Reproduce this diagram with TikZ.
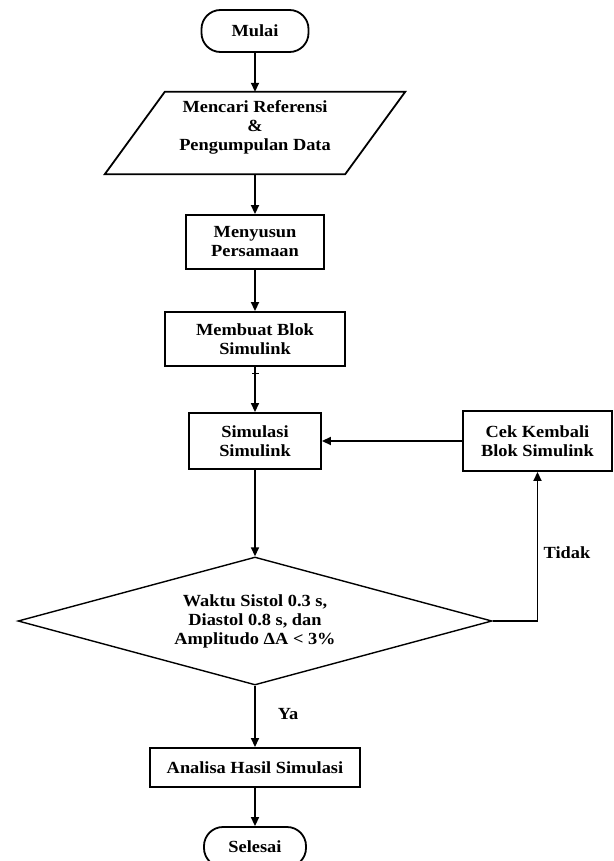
\documentclass[tikz,border=0pt]{standalone}
\usepackage{fontspec}
\setmainfont{Liberation Serif}[FakeStretch=1.08]
\usetikzlibrary{arrows.meta,shapes.geometric,calc}
\begin{document}
\begin{tikzpicture}[x=1bp,y=-1bp,
  every node/.style={font=\fontsize{17bp}{19bp}\selectfont\bfseries, align=center, inner sep=0pt},
  box/.style={draw, line width=1.9bp, rectangle},
  term/.style={draw, line width=1.8bp, rectangle, rounded corners=19bp},
  arr/.style={line width=1.8bp, -{Triangle[length=9bp,width=8bp]}},
  thinarr/.style={line width=1.5bp, -{Triangle[length=9bp,width=8bp]}}]
\useasboundingbox (0,0) rectangle (614,861);
\fill[white] (0,0) rectangle (614,861);
% nodes
\node[term, minimum width=107bp, minimum height=42bp] (mulai) at (255,31) {Mulai};
\node[minimum width=240bp, minimum height=82bp] (ref) at (255,133) {};
\draw[line width=1.8bp] ([xshift=30bp]ref.north west) -- ([xshift=30bp]ref.north east)
  -- ([xshift=-30bp]ref.south east) -- ([xshift=-30bp]ref.south west) -- cycle;
\node (reftxt) at (255,127) {Mencari Referensi\\ \&\\ Pengumpulan Data};
\node[box, minimum width=138bp, minimum height=54bp] (susun) at (255,242) {Menyusun\\Persamaan};
\node[box, minimum width=180bp, minimum height=54bp] (blok) at (255,339) {Membuat Blok\\Simulink};
\node[box, minimum width=132bp, minimum height=56bp] (sim) at (255,441) {Simulasi\\Simulink};
\node[box, minimum width=149bp, minimum height=60bp] (cek) at (537.5,441) {Cek Kembali\\Blok Simulink};
\node[draw, diamond, aspect=3.7, line width=1.4bp, minimum width=474bp, minimum height=128bp] (dia) at (255,621)
  {Waktu Sistol 0.3 s,\\Diastol 0.8 s, dan\\Amplitudo ΔA < 3\%};
\node[box, minimum width=210bp, minimum height=39bp] (anal) at (255,767.5) {Analisa Hasil Simulasi};
\node[term, minimum width=102bp, minimum height=40bp] (selesai) at (255,847) {Selesai};
\node (ya) at (288,714) {Ya};
\node (tidak) at (567,553) {Tidak};
% connectors
\draw[arr] (mulai) -- (ref);
\draw[arr] (ref) -- (susun);
\draw[arr] (susun) -- (blok);
\draw[thinarr] (blok) -- (sim);
\draw[line width=1bp] ($(blok.south)+(-3,7)$) -- ($(blok.south)+(4,7)$);
\draw[thinarr] (sim) -- (dia);
\draw[arr] (dia.east) -| (cek.south);
\draw[arr] (cek.west) -- (sim.east);
\draw[thinarr] (dia.south) -- (anal.north);
\draw[thinarr] (anal) -- (selesai);
\end{tikzpicture}
\end{document}
